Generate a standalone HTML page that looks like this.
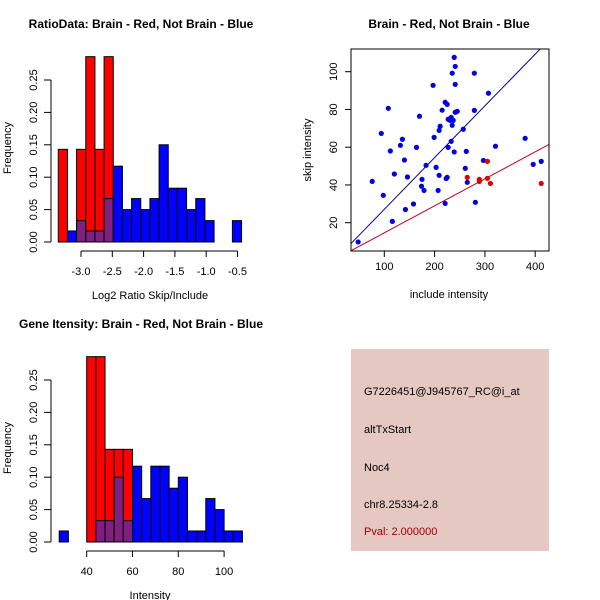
<!DOCTYPE html>
<html><head><meta charset="utf-8"><style>
body{margin:0;background:#fff}
svg{display:block;font-family:"Liberation Sans",sans-serif}
</style></head><body>
<svg id="s" width="600" height="600" xmlns="http://www.w3.org/2000/svg">
<rect width="600" height="600" fill="#fff"/>
<g id="p1"></g>
<g id="p2"></g>
<g id="p3"></g>
<g font-size="11">
<rect x="351" y="349" width="198" height="202" fill="#e6c8c2"/>
<text x="364" y="395">G7226451@J945767_RC@i_at</text>
<text x="364" y="433">altTxStart</text>
<text x="364" y="471">Noc4</text>
<text x="364" y="508">chr8.25334-2.8</text>
<text x="364" y="535" fill="#a00000">Pval: 2.000000</text>
</g>
</svg>
<script>
// Ratio histogram data
const ratioBinStart = -3.363;
const ratioBinWidth = 0.1464;
const ratioRed = [0.143,0,0.143,0.286,0.143,0.286,0,0,0,0,0,0,0,0,0,0,0,0,0,0];
const ratioBlue = [0,0.017,0.033,0.017,0.017,0.067,0.117,0.05,0.067,0.05,0.067,0.15,0.083,0.083,0.05,0.067,0.033,0,0,0.033];
const ratioXTicks = [-3.0,-2.5,-2.0,-1.5,-1.0,-0.5];
const freqTicks = [0,0.05,0.10,0.15,0.20,0.25];
const freqTickLabels = ["0.00","0.05","0.10","0.15","0.20","0.25"];
// Intensity histogram data
const intBinStart = 28;
const intBinWidth = 4;
const intRed = [0,0,0,0.286,0.286,0.143,0.143,0.143,0,0,0,0,0,0,0,0,0,0,0,0];
const intBlue = [0.017,0,0,0,0.033,0.033,0.1,0.033,0.117,0.067,0.117,0.117,0.083,0.1,0.017,0.017,0.067,0.05,0.017,0.017];
const intXTicks = [40,60,80,100];
// Scatter data
const blueX = [48,76,94,98,108,112,116,120,132,136,140,142,146,158,164,170,174,175,179,183,197,199,203,207,209,209,211,215,221,221,225,223,225,227,227,231,233,235,235,233,237,239,239,241,241,241,245,257,261,263,265,279,279,281,297,307,321,380,396,412];
const blueY = [9.8,41.9,67.3,34.5,80.6,58,20.7,45.8,61,64.2,53.2,27,44.2,29.9,59.9,76.4,39.3,43,37.1,50.4,92.8,65.2,49.3,37.1,45.1,68.9,71.1,79.6,30.2,83.8,82.7,43.4,44,59.9,74.8,74.2,75.8,71.6,99.2,63.1,74.2,57.5,107.6,102.8,93.3,78.5,79,69.5,48.8,57.8,41.4,99.2,79.5,30.8,53,88.6,60.5,64.7,50.9,52.5];
const redX = [265,289,289,305,305,311,412];
const redY = [44,43,41.9,52.5,43.5,40.8,40.8];
const blueFit = [-0.3,0.274];
const redFit = [0.33,0.143];
const scatXTicks = [100,200,300,400];
const scatYTicks = [20,40,60,80,100];

const NS="http://www.w3.org/2000/svg";
function mk(parent,tag,attrs){const e=document.createElementNS(NS,tag);for(const k in attrs)e.setAttribute(k,attrs[k]);parent.appendChild(e);return e;}

function hist(g,o){
  const sx=v=>o.x0+(v-o.xv0)*o.xs, sy=v=>o.y0-v*o.ys;
  for(let i=0;i<o.red.length;i++){
    const a=o.start+i*o.w,b=a+o.w,r=o.red[i],bl=o.blue[i];
    if(r>0){const e=mk(g,'rect',{x:sx(a),y:sy(r),width:sx(b)-sx(a),height:sy(0)-sy(r),fill:'#ff0000',stroke:'#000','stroke-width':1});
      
      }
    if(bl>0){const e=mk(g,'rect',{x:sx(a),y:sy(bl),width:sx(b)-sx(a),height:sy(0)-sy(bl),fill:r>0?'#7f1f7f':'#0000ff',stroke:'#000','stroke-width':1});
      
      }
  }
  const ya=mk(g,'line',{x1:o.x0-o.yax,y1:sy(0),x2:o.x0-o.yax,y2:sy(0.25),stroke:'#000'});
  
  
  freqTicks.forEach((t,i)=>{
    mk(g,'line',{x1:o.x0-o.yax,x2:o.x0-o.yax-7,y1:sy(t),y2:sy(t),stroke:'#000'});
    const tx=mk(g,'text',{x:0,y:0,'font-size':11,'text-anchor':'middle',transform:`translate(${o.x0-o.yax-14},${sy(t)}) rotate(-90)`});
    tx.textContent=freqTickLabels[i];
    
    
  });
  const ay=o.y0+9;
  const xa=mk(g,'line',{x1:sx(o.xt[0]),x2:sx(o.xt[o.xt.length-1]),y1:ay,y2:ay,stroke:'#000'});
  
  
  o.xt.forEach(t=>{
    mk(g,'line',{x1:sx(t),x2:sx(t),y1:ay,y2:ay+6,stroke:'#000'});
    const tx=mk(g,'text',{x:sx(t),y:ay+24,'font-size':11,'text-anchor':'middle'});
    tx.textContent=o.fmt(t);
    
    
  });
  const yl=mk(g,'text',{x:0,y:0,'font-size':11,'text-anchor':'middle',transform:`translate(11,${o.y0-94}) rotate(-90)`});
  yl.textContent='Frequency';
  
  
  const xl=mk(g,'text',{x:o.xlx,y:o.y0+57,'font-size':11,'text-anchor':'middle'});
  xl.textContent=o.xlab;
  
  
  const ti=mk(g,'text',{x:o.tx,y:o.y0-214,'font-size':12,'font-weight':'bold','text-anchor':'middle'});
  ti.textContent=o.title;
  
  
}
hist(document.getElementById('p1'),{x0:81,xv0:-3,xs:62.6,y0:242,ys:648,start:ratioBinStart,w:ratioBinWidth,red:ratioRed,blue:ratioBlue,yax:30,xt:ratioXTicks,fmt:t=>t.toFixed(1),xlab:'Log2 Ratio Skip/Include',xlx:150,title:'RatioData: Brain - Red, Not Brain - Blue',tx:141});
hist(document.getElementById('p3'),{x0:86.7,xv0:40,xs:2.29,y0:542,ys:648,start:intBinStart,w:intBinWidth,red:intRed,blue:intBlue,yax:35.7,xt:intXTicks,fmt:t=>String(t),xlab:'Intensity',xlx:150,title:'Gene Itensity: Brain - Red, Not Brain - Blue',tx:141});

(function(){
  const g=document.getElementById('p2');
  const L=351,R=549,T=49,B=251;
  const sx=v=>384.3+(v-100)*0.503, sy=v=>222.7-(v-20)*1.8875;
  const defs=mk(g,'defs',{});const cp=mk(defs,'clipPath',{id:'clp'});mk(cp,'rect',{x:L,y:T,width:R-L,height:B-T});
  const x1=(L-384.3)/0.503+100,x2=(R-384.3)/0.503+100;
  const bl=mk(g,'line',{x1:sx(x1),y1:sy(blueFit[0]+blueFit[1]*x1),x2:sx(x2),y2:sy(blueFit[0]+blueFit[1]*x2),stroke:'#00008b','clip-path':'url(#clp)'});
  
  
  const rl=mk(g,'line',{x1:sx(x1),y1:sy(redFit[0]+redFit[1]*x1),x2:sx(x2),y2:sy(redFit[0]+redFit[1]*x2),stroke:'#c00020','clip-path':'url(#clp)'});
  
  
  blueX.forEach((x,i)=>{const c=mk(g,'circle',{cx:sx(x),cy:sy(blueY[i]),r:2.6,fill:'#0000e0'});
    
    });
  redX.forEach((x,i)=>{const c=mk(g,'circle',{cx:sx(x),cy:sy(redY[i]),r:2.6,fill:'#e00000'});
    
    });
  const box=mk(g,'rect',{x:L,y:T,width:R-L,height:B-T,fill:'none',stroke:'#000'});
  
  
  scatXTicks.forEach(t=>{mk(g,'line',{x1:sx(t),x2:sx(t),y1:B,y2:B+6,stroke:'#000'});
    const tx=mk(g,'text',{x:sx(t),y:B+19,'font-size':11,'text-anchor':'middle'});tx.textContent=t;
    
    });
  scatYTicks.forEach(t=>{mk(g,'line',{x1:L,x2:L-6,y1:sy(t),y2:sy(t),stroke:'#000'});
    const tx=mk(g,'text',{x:0,y:0,'font-size':11,'text-anchor':'middle',transform:`translate(${L-14},${sy(t)}) rotate(-90)`});tx.textContent=t;
    
    });
  const xl=mk(g,'text',{x:449,y:298,'font-size':11,'text-anchor':'middle'});xl.textContent='include intensity';
  
  
  const yl=mk(g,'text',{x:0,y:0,'font-size':11,'text-anchor':'middle',transform:'translate(311,150) rotate(-90)'});yl.textContent='skip intensity';
  
  
  const ti=mk(g,'text',{x:449,y:28,'font-size':12,'font-weight':'bold','text-anchor':'middle'});ti.textContent='Brain - Red, Not Brain - Blue';
  
  
})();
</script>
</body></html>
